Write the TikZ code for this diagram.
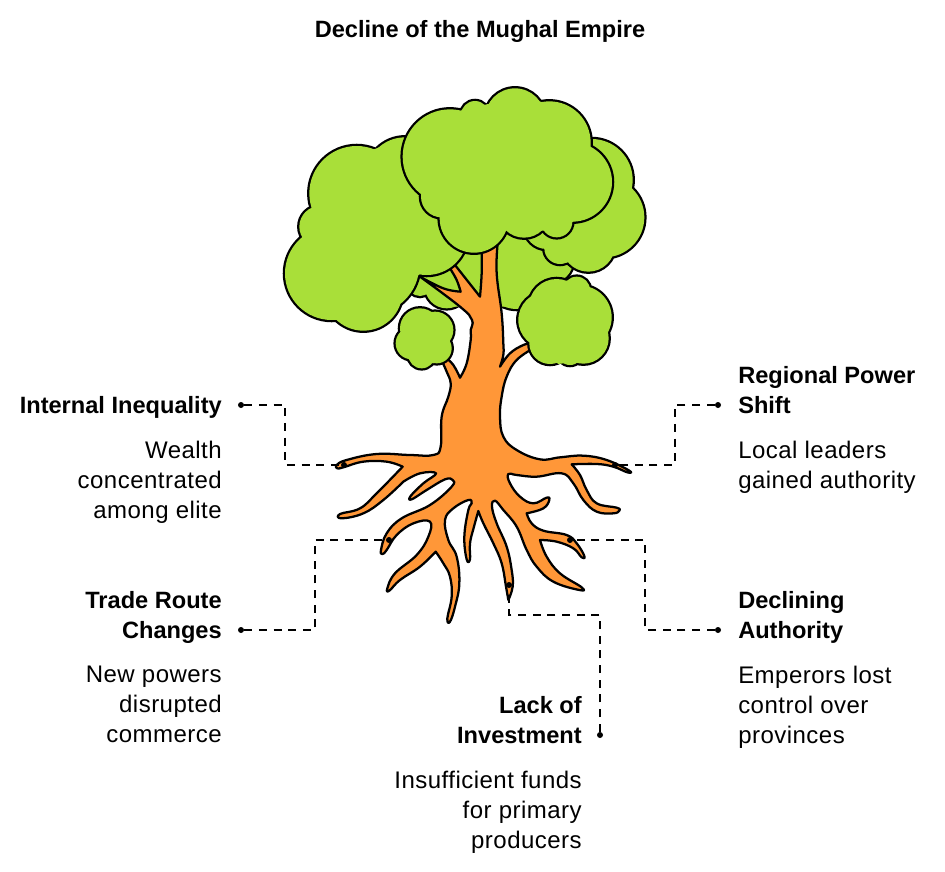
\documentclass[tikz,border=0pt]{standalone}
\usepackage{fontspec}
\setmainfont{Liberation Sans}
\newfontfamily\spacedfont[LetterSpace=2]{Liberation Sans}
\definecolor{leafgreen}{HTML}{A9DF39}
\definecolor{barkorange}{HTML}{FF9738}
% a clump of leaves: its lobes, then the polygon through the notches between them
\newcommand{\clump}[2]{
  \path[draw=black, line width=3.4pt] #1;
  \path[fill=leafgreen] #1;
  \path[fill=leafgreen] #2;
}
\tikzset{
  bark/.style={draw=black, fill=barkorange, line width=1.7pt, line join=round},
  limb/.style={smooth, tension=0.7},
  leader/.style={line width=1.7pt, dash pattern=on 6pt off 5pt},
  enddot/.style={circle, fill=black, inner sep=0pt, minimum size=4.5pt},
  heading/.style={font=\fontsize{17.7}{22.5}\selectfont\bfseries, inner sep=0pt},
  body/.style={font=\spacedfont\fontsize{18}{22.5}\selectfont, inner sep=0pt}
}
\begin{document}
\begin{tikzpicture}[x=0.75pt, y=-0.75pt]
  \useasboundingbox (0,0) rectangle (945,871);

  \node[heading] (title) at (480,31) {Decline of the Mughal Empire};

  % crown, back part
  \begin{scope}[shift={(270,80)}, scale=1/3]
    \clump{(450,610) circle (38) (530,620) circle (65) (740,590) circle (97) (840,540) circle (70)}
      {(420,620) -- (550,680) -- (740,680) -- (830,600) -- (850,400) -- (500,400) -- cycle}
    \clump{(965,300) circle (123) (1003,412) circle (120) (955,495) circle (80) (870,505) circle (47) (830,440) circle (67)}
      {(960,180) -- (1083,332) -- (1028,520) -- (888,548) -- (825,505) -- (768,475) -- (800,300) -- cycle}
  \end{scope}

  % trunk and roots
  \begin{scope}[shift={(320,340)}, scale=1/3]
    \path[bark] plot[limb] coordinates {(420,113) (440,70) (452,0) (452,-30) (456,-60) (420,-100) (300,-190)}
      -- plot[limb] coordinates {(300,-190) (370,-155) (422,-145)}
      -- plot[limb] coordinates {(422,-145) (410,-180) (390,-215)}
      -- (405,-225) -- (480,-130)
      -- plot[limb] coordinates {(480,-130) (485,-200) (485,-270)}
      -- plot[limb] coordinates {(533,-290) (530,-200) (545,-80) (550,10) (550,45) (540,80)}
      -- plot[limb] coordinates {(540,80) (570,40) (610,15) (635,10)}
      -- plot[limb] coordinates {(640,25) (590,60) (560,110) (545,170) (540,230) (550,290) (590,330) (660,358) (720,352) (790,347) (860,360) (928,392) (922,397) (880,380) (830,372) (755,373)}
      -- plot[limb] coordinates {(755,373) (780,405) (800,450) (830,490) (890,503) (898,512) (880,520) (830,515) (790,480) (760,430) (725,400) (650,410) (590,405) (565,402) (570,430) (600,470) (640,490) (680,473) (688,480) (670,505) (620,520)}
      -- plot[limb] coordinates {(620,520) (635,550) (670,572) (740,585) (770,610) (793,648) (785,652) (760,625) (710,605) (660,600)}
      -- plot[limb] coordinates {(660,600) (680,650) (720,700) (785,742) (778,750) (700,725) (650,680) (620,630) (590,560) (550,510) (525,482) (516,500) (530,550) (560,620) (575,690) (578,740) (565,780)}
      -- plot[limb] coordinates {(565,780) (558,740) (545,670) (520,610) (490,550) (475,513)}
      -- plot[limb] coordinates {(475,513) (462,560) (450,610) (450,658) (440,658) (433,590) (445,510) (455,490) (445,480) (400,505) (375,540) (385,600) (410,650) (418,730) (405,800) (390,845) (382,835) (395,770) (390,710) (370,670) (347,635)}
      -- plot[limb] coordinates {(347,635) (300,680) (240,720) (208,752) (202,745) (225,700) (290,645) (325,590) (330,545) (280,550) (230,585) (200,630) (187,642) (183,630) (200,580) (245,535) (330,495) (395,440) (398,420) (375,418) (320,450) (275,478) (272,468) (310,430) (348,400) (300,400) (250,425)}
      -- plot[limb] coordinates {(250,425) (190,480) (130,520) (65,535) (60,522) (120,505) (170,460) (248,380)}
      -- plot[limb] coordinates {(248,380) (200,365) (130,365) (70,382) (52,385) (50,375) (80,360) (170,342) (270,345) (340,345) (362,320) (365,230) (385,170) (392,130) (380,95) (362,55)}
      -- plot[limb] coordinates {(375,50) (400,75) (420,113)}
      -- cycle;
  \end{scope}

  % crown, front part
  \begin{scope}[shift={(270,80)}, scale=1/3]
    \clump{(405,290) circle (118) (470,462) circle (123) (300,555) circle (148) (280,635) circle (117) (185,580) circle (140) (150,440) circle (62) (260,340) circle (142)}
      {(312,208) -- (405,172) -- (500,300) -- (580,510) -- (445,585) -- (382,668) -- (195,718) -- (95,482) -- (128,392) -- cycle}
    \clump{(540,230) circle (142) (615,105) circle (42) (735,115) circle (90) (838,188) circle (124) (907,306) circle (119) (860,425) circle (47) (762,395) circle (78) (612,415) circle (103) (515,350) circle (62)}
      {(575,90) -- (655,72) -- (813,65) -- (962,200) -- (910,425) -- (820,452) -- (705,450) -- (515,412) -- (455,340) -- cycle}
    \clump{(450,745) circle (60) (495,750) circle (55) (500,805) circle (45) (455,825) circle (40) (425,790) circle (48)}
      {(392,752) -- (482,698) -- (540,778) -- (490,850) -- (420,838) -- cycle}
    \clump{(860,680) circle (83) (920,630) circle (40) (930,712) circle (95) (940,775) circle (76) (900,815) circle (40) (840,790) circle (62) (830,720) circle (85)}
      {(780,660) -- (890,602) -- (960,632) -- (1008,762) -- (940,842) -- (865,852) -- (785,790) -- cycle}
  \end{scope}

  % labels
  \begin{scope}[every node/.style={heading, align=right, anchor=north east}]
    \node (ineqhead) at (222,396) {Internal Inequality};
    \node (tradehead) at (222,591) {Trade Route\\Changes};
    \node (lackhead) at (582,696) {Lack of\\Investment};
  \end{scope}
  \begin{scope}[every node/.style={heading, align=left, anchor=north west}]
    \node (powerhead) at (738,366) {Regional Power\\Shift};
    \node (authhead) at (738,591) {Declining\\Authority};
  \end{scope}
  \begin{scope}[every node/.style={body, align=right, anchor=north east}]
    \node (ineqtext) at (222,441) {Wealth\\concentrated\\among elite};
    \node (tradetext) at (222,666) {New powers\\disrupted\\commerce};
    \node (lacktext) at (582,771) {Insufficient funds\\for primary\\producers};
  \end{scope}
  \begin{scope}[every node/.style={body, align=left, anchor=north west}]
    \node (powertext) at (738,441) {Local leaders\\gained authority};
    \node (authtext) at (738,666) {Emperors lost\\control over\\provinces};
  \end{scope}

  % connector ends
  \begin{scope}[every node/.style={enddot}]
    \node (ineqdot) at (241,405) {};
    \node (tradedot) at (241,630) {};
    \node (lackdot) at (600,735) {};
    \node (powerdot) at (718,405) {};
    \node (authdot) at (718,630) {};
    \node (ineqroot) at (344,465) {};
    \node (traderoot) at (389,540) {};
    \node (lackroot) at (509,585) {};
    \node (powerroot) at (615,465) {};
    \node (authroot) at (570,540) {};
  \end{scope}

  \coordinate (ineqa) at (285,405);
  \coordinate (ineqb) at (285,465);
  \coordinate (tradea) at (315,630);
  \coordinate (tradeb) at (315,540);
  \coordinate (lacka) at (600,615);
  \coordinate (lackb) at (509,615);
  \coordinate (powera) at (675,405);
  \coordinate (powerb) at (675,465);
  \coordinate (autha) at (645,630);
  \coordinate (authb) at (645,540);

  \draw[leader] (ineqdot) -- (ineqa) -- (ineqb) -- (ineqroot);
  \draw[leader] (tradedot) -- (tradea) -- (tradeb) -- (traderoot);
  \draw[leader] (lackdot) -- (lacka) -- (lackb) -- (lackroot);
  \draw[leader] (powerdot) -- (powera) -- (powerb) -- (powerroot);
  \draw[leader] (authdot) -- (autha) -- (authb) -- (authroot);
\end{tikzpicture}
\end{document}
